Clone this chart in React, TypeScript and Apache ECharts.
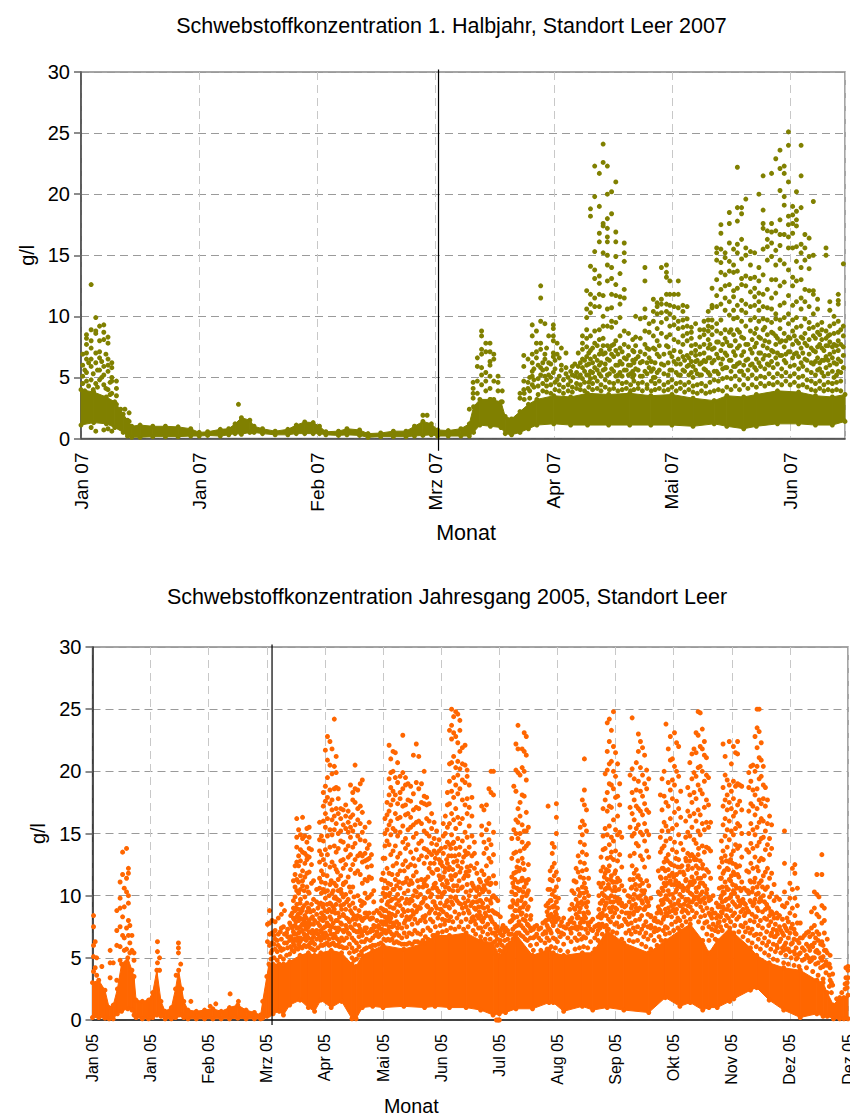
import React, { useEffect, useRef } from "react";
import * as echarts from "echarts";

const FONT = "Liberation Sans, Arial, sans-serif";
const olive = "#808000";
const orange = "#FF6600";
const titleTop = "Schwebstoffkonzentration 1. Halbjahr, Standort Leer 2007";
const titleBottom = "Schwebstoffkonzentration Jahresgang 2005, Standort Leer";
const ticksTop = ["Jan 07", "Jan 07", "Feb 07", "Mrz 07", "Apr 07", "Mai 07", "Jun 07"];
const ticksBottom = ["Jan 05", "Jan 05", "Feb 05", "Mrz 05", "Apr 05", "Mai 05", "Jun 05", "Jul 05", "Aug 05", "Sep 05", "Okt 05", "Nov 05", "Dez 05", "Dez 05"];

// The solid mass of thousands of overlapping readings cannot be read point by point:
// it is kept as an estimated [day, low, high] outline; the separable dots are listed individually.
const bandTop = [[0,1.1,4],[3,1.3,3.8],[6,1.2,3.4],[8,.9,3],[10,.5,2],[11,.2,1.5],[12,.1,1],[14,.1,1.1],[17,.15,1],[20,.15,1],[23,.15,.95],[26,.2,.8],[28,.2,.5],[30,.25,.55],[33,.2,.75],[35,.3,.8],[36.5,.4,1.2],[38,.35,1.7],[40,.5,1.5],[41,.5,1],[43,.4,.8],[46,.3,.6],[49,.3,.75],[51,.4,1.1],[53,.4,1.35],[55,.4,1.3],[56.5,.4,1],[58,.3,.55],[61,.25,.6],[63,.3,.8],[66,.25,.7],[68,.1,.4],[71,.15,.45],[74,.15,.6],[77,.15,.6],[79,.2,1],[81,.25,1.4],[83,.3,1.2],[84.5,.2,.7],[87,.2,.65],[90,.2,.8],[92,.2,1.2],[93,.5,2.6],[94.5,1.1,3.2],[97,1,3.2],[99.5,.9,3],[100.5,.4,1.8],[102,.3,1.6],[104,.5,2.2],[106,.8,2.8],[108,1.1,3.2],[112,1.2,3.5],[116,1.1,3.4],[120,1.1,3.7],[125,1.1,3.6],[130,1.1,3.7],[135,1.1,3.5],[140,1.1,3.6],[145,1,3.3],[150,1.2,3.1],[153,1,3.5],[157,.8,3.4],[160,1,3.6],[165,1.2,3.9],[170,1.2,3.8],[174,1.1,3.5],[178,1.1,3.4],[181,1.4,3.6]];

const dotsTop = [[.4,6.9,6,5.1,4.5],[1.3,8.5,8.2,7.7,7,6.5,5.4,4.7],[2.4,12.6,8.9,8,7.4,6.5,5.9,4.8,.9],[3.5,9.9,8.8,8.6,7,6.2,4.5,.6],[4.4,9.2,8,7.1,6.6,5.6,4.8],[5.4,9.3,8.7,8.1,5.9,5.2,4.4,.7],[6.4,8.3,7.8,6.5,6,5.5,4,.8],[7.3,6.2,5.8,5,4.7,3.7,.6],[8.4,4.7,4.1,3.5,2.8],[9.4,2.4],[10.4,2.4],[11.4,2.1,1.4],[37.3,2.8],[81,1.9],[82,1.9],
[92,2.4],[92.9,4.6,4.1,3.7,3.3],[93.9,6.6,5.9,4.7,3.7],[94.9,8.8,8.4,7.3,6.9,5.8,5.2,4.4],[95.9,7.8,7.1,5.4,4.7,3.9],[96.9,7.8,7.1,6.3,6,5.1,4.1,3.2],[97.8,6.9,6.5,4.7,3.2],[98.8,5.1,4.6,3.9],[99.8,3.9,3],
[104,3.7,3.3],[104.9,6.8,5.9,4.7,4],[105.9,6.5,4.6,4.1],[106.9,9.3,8.4,6.9,6.2,5.5,5.1,4.4],[107.9,8.8,7.8,6.6,7.1],[108.9,12.5,11.5,9.6,7.8,7.3,5.8,5.2],[109.9,9.4,6.9,6.5,5.1],[110.8,8.4,6.2,5.2],[111.9,9.3,9,8.4,8,7,6.7,5.4],[112.8,7.8,6.9,4.8],[113.8,7.4,6,5.6],[114.9,7,5.8,5.3],[116,5.5,4.7],[117,6.1,5.1],[117.8,7,5.9,5],
[118.8,8.4,7.8,7.3,6.5,5.8,4.9],[119.8,12.1,10.6,9.9,8.9,8.2,7.5,6.7,6,5.2],[120.7,18.8,18.2,14.1,11.8,11,10.3,8.4,7.2,6.5,5.5,4.9],[121.7,22.3,19.8,15.3,13.8,13.1,11.5,10.8,8.8,7.8,6.7,5.8,5],[122.8,21.7,19,16.8,16.1,13.3,12.7,11.8,10.8,8.9,8.1,6.9,6,5.3],[123.7,24.1,22.6,17.6,17.4,15.2,11.7,10,9.2,8.2,7.6,6.9,5.6],[124.7,22.3,20,18,17.2,16.5,16.1,15,14.2,12.9,10.6,9.2,7.6,6.5,5.2],[125.7,20.2,18.4,14,13.1,11.8,10.7,9.6,9.1,7.6,6.9,5.7],[126.7,21,16.9,16.1,14.9,12.6,11.7,9.5,8,7.2,6,5.1],[127.7,13.5,11.6,11,9.9,8.4,7.4,6.3,5.4],[128.7,16,15.2,14.5,12.2,11.5,8.8,7.7,6.6,5.6],[129.7,8.6,7.5,6.8,6,5.2],[130.7,8.1,7.2,6.4,5.5,5],[131.4,10,8.3,7.6,6.5,5.7],[132.5,9.8,8.2,7.1,6.2,5.1],[133.6,14,12.9,10.6,9.9,8.8,7.7,6.9,5.5],[134.6,9.4,8.7,7.3,6.6,5.8],[135.6,11.4,10.4,9.6,8.4,7.4,5.7,5],[136.5,11.1,10.8,10.2,9,8,6.9,5.4],[137.5,14,11.4,11,10.3,9.5,8.6,6.1],[138.7,14.2,13.6,13.2,11.8,11,10.4,9.8,8.3,7.6],[139.5,12.9,11.8,10.9,10.2,9.2,8.5,7,5.6],[140.5,11.8,10.8,9.9,9.3,8.1,7.2,6.3],[141.5,12.9,11.8,10.7,9.6,9,7.9,6.5,5.2],[142.6,10.9,10.4,9.7,9.1,8.4,7.7,6.7,5.6],[143.6,10.8,9.8,9.2,8.6,8,6.8,5.9],[144.6,9.1,8.7,8.2,7.6,7,6.3,5.4],[145.6,9.4,7.7,7.2,6.8,6.3,5.6],[146.6,8.9,8.3,7.5,6.9,6.1,5.2],[147.6,9.6,8.9,8.5,7.7,7,6.4,5.7],[148.6,10.4,9.7,9.2,8.8,8.1,7.4,6.6,5.4],[149.5,12.3,10.9,10.7,9.7,9.1,8.5,7.3,6.2],[150.6,15.6,15.2,14.6,13,11.7,10.8,9.4,8.8,7.9,6.9,5.5],[151.6,17.5,16.8,15.5,14.4,13.6,12.2,11,9.7,8.6,7.2,6.1],[152.6,15.2,14.8,13.4,12.5,11.5,10.5,8.9,8.2,7,5.8],[153.6,18.5,17.6,16,14.5,13.7,12.6,11.2,10.1,8.7,7.6,6.4],[154.6,15.5,14.2,13.6,12.1,11.6,10.5,9.8,8.5,7.1,5.9],[155.5,22.2,18.9,17.8,15.9,15.2,13.7,12.3,10.9,9.9,8.9,7.4,6.1],[156.5,18.9,18.4,16.3,14.7,13.1,12.6,11.3,10.5,9.6,8.3,6.8,5.5],[157.5,19.6,15.6,15,13.3,12.5,11,10.3,9.2,7.7,6.4],[158.6,15.3,14.2,13.1,12,10.8,9.7,8.8,7.3,6],[159.6,15.2,13.2,12.3,11.6,10.9,9.9,8.6,7.5,5.8],[160.6,20,14,12.9,11.9,11.2,10.5,9.6,8.3,7,6.2],[161.6,21.5,18.7,17.6,17.2,15.5,13.4,11.8,10.8,9.8,8.9,7.6,6.5],[162.6,17,16.3,15.7,14.6,12.2,10.7,9.7,8.5,7.4,6.1],[163.6,21.7,17.6,16.9,16,14.9,13,11.5,10.6,9.5,8.7,7.2,6.3],[164.6,22.9,17,15.4,14.2,13,11.9,10.2,9.8,8.4,7.7,6.6],[165.6,23.6,22.1,20.3,17.9,16.7,15.8,14.6,12.5,10.9,9.7,9,7.9,6.8],[166.6,22.3,21.7,19.8,19.1,16.7,14.3,12.8,11.1,9.9,8.6,7.5,6.4],[167.6,25.1,24,21,18.2,17.5,16.5,15.6,13.8,11.7,10.2,9.4,8.3,7.1],[168.6,19,18.3,17.6,16.8,15.6,13.2,12.5,10.9,9.7,8.8,7.7,6.6],[169.5,20.2,18.6,17.9,17.4,15.7,14.5,12.9,11.2,9.9,9.1,8,7],[170.6,24,21.5,18.9,15.9,15.2,14,13,11.5,10.6,9.2,8.3,7.4,6.2],[171.5,16.7,15.6,14.6,12.2,11.2,9.8,8.6,7.8,6.5],[172.5,16.4,14.9,13.9,12.1,10.8,9.5,9,8.1,6.9],[173.5,19.4,15,12.1,11.8,10.2,9.1,8.4,7.2,6.1],[174.5,11.4,10.6,9.3,8.7,7.5,6.6,5.6],[175.5,9.5,8.9,8.1,7.4,6.4,5.4],[176.5,15.6,15,8.8,8.2,7.6,6.7,5.8],[177.4,11.2,10.5,9.2,8.5,7.9,6.9,6],[178.4,10,9.4,8.6,7.7,7.1,6.2,5],[179.4,11.8,11.3,11,9.6,8.7,8,7.2,6.5,5.5],[180.6,14.3,9.2,8.4,7.5,6.8,5.8]];

// Second pass over the reference: dots just above the solid mass of the 2007 panel.
const fringeTop = [[.9,5.6,3.9],[1.8,6.2,4.3],[2.9,5.3,4],[3.9,5.6,4.2],[4.9,6.3,5],[5.9,6.9,4.1],[6.9,4.6,3.6],[105,3.2,3.7],[106.3,3.3,3.9,5],[107.3,4.2,4.8,5.7],[108.3,3.6,4.3,4.9,6],[109.4,3.9,4.5,5.6,6.2],[110.3,3.8,4.3,4.8,5.7,7.4],[111.3,3.7,4.4,5,6.1],[112.3,4,4.6,5.7,6.4],[113.3,3.9,4.4,5.1,6.6],[114.3,3.7,4.2,4.8],[115.4,3.9,4.4,5],[116.4,3.8,4.2,5.2,5.9],[117.4,4.1,4.5,5.4],[118.3,4,4.4,5.2,6.2],[119.3,3.9,4.6,5.5,6.4],[120.3,4.2,4.6,5.2,6.1,7],[121.2,4,4.5,5.4,6.2,7.4],[122.3,4.1,4.7,5.6,6.4,7.6],[123.2,3.9,4.4,5.1,6.2,7.2],[124.2,4.2,4.8,5.7,6.1,7],[125.2,4,4.6,5.3,6.4,7.3],[126.2,4.1,4.5,5.5,6.7,7.7],[127.2,3.9,4.7,5.2,6,6.9],[128.2,4,4.5,5.1,6.1,7.1],[129.2,4.1,4.6,5.6,6.5],[130.2,3.9,4.4,5.3,6],[131,4,4.7,5.2,6.2,7.1],[132,4.1,4.5,5.6,6.7],[133,3.9,4.6,5.1,6.3],[134.1,4.1,4.4,5.3,6.2,7.4],[135.1,3.9,4.7,5.5,6.3],[136,4,4.5,5,6.2,7.3],[137,4.1,4.7,5.6,6.7,7.6],[138.1,3.9,4.4,5.3,6,6.9],[139.1,4,4.6,5.2,6.2,7.5],[140,4.2,4.8,5.6,6.7],[141,3.9,4.5,5.4,6.1],[142,4.1,4.6,5.2,6.1,7.1],[143,3.8,4.4,5.5,6.4],[144,4,4.6,5.2,6,6.6],[145,3.8,4.3,5,5.9],[146,3.7,4.4,5.3,6.4],[147,3.9,4.5,5.2,6.2],[148,3.7,4.3,5.6,6.3],[149,3.8,4.6,5.2,6.6,7.7],[150,3.9,4.8,5.5,6.4,7.4],[151,4,4.7,5.3,6.6,7.9],[152,3.9,4.9,5.7,6.5,7.7],[153,4.2,5,5.8,6.8,7.9],[154,4,4.9,5.5,6.4,7.6,8.9],[155,4.3,5.1,5.9,6.8,8],[156,4,4.8,5.5,6.2,7.6,8.7],[157,4.4,5.2,6,7.1,8.2],[158,4.1,4.9,5.6,6.5,7.7],[159,4.4,5.2,6.1,7,8.1],[160,4.2,4.9,5.6,6.5,7.8,9],[161,4.5,5.1,5.9,7,8.2],[162,4.3,5,5.7,6.8,8,9.1],[163,4.5,5.3,6,6.8,7.9],[164,4.4,5,5.8,7.1,8.6],[165,4.6,5.3,6.1,7,8.2],[166,4.4,5.1,5.7,6.8,8],[167,4.7,5.4,6.2,6.9,8],[168,4.4,5.1,5.9,7.1,8.2],[169,4.6,5.3,6,6.9,8.4],[170,4.3,5,5.7,6.7,7.8],[171,4.4,5.1,5.9,7,8.2],[172,4.2,4.8,5.6,6.4,7.6],[173,4,4.7,5.4,6.2,7.4],[174,3.9,4.5,5.2,6.3,7.1,8.2],[175,4.1,4.7,5.7,6.2,7.7,8.5],[176,3.9,4.4,5.1,6.4,7.2],[177,4,4.6,5.3,6.4,7.6,8.4],[178,3.9,4.5,5.5,6.6,7.5],[179,4,4.6,5.2,6.1,7.6],[180,3.9,4.7,5.4,6.3,7.7,8.9]];

const bandBottom = [[0,.2,3],[3,.2,3.2],[6,.15,2.4],[8,.1,1],[10,.1,1.2],[12,.5,2.5],[14,.7,4.5],[17,.9,5],[19,.8,4],[20,.4,3.5],[21,.2,1.6],[24,.1,1.5],[27,.1,1.6],[29,.2,2.2],[31,.4,4],[33,.3,1.5],[35,.1,.7],[38,.1,1],[40,.2,2.5],[41.5,.4,4],[43,.4,2.5],[44,.2,1.5],[46,.1,.8],[50,.1,.7],[54,.1,.8],[58,.1,.9],[62,.1,.7],[66,.1,1],[70,.15,1.2],[74,.1,.8],[78,.1,.6],[81,.1,.4],[82,.15,1.5],[84,.3,3.5],[85,.4,4.5],[87,.5,4.5],[90,.7,4.5],[92,.4,4.5],[95,1.2,4.7],[100,1.6,5.2],[104,1,5.4],[107,.7,5.2],[110,1.6,5.4],[115,1,5.6],[120,1.5,5.4],[125,.1,4.5],[127,.1,4.3],[130,1,5.2],[135,1.1,5.6],[140,1,6],[150,1.1,5.7],[160,1,6.2],[165,1.1,6.8],[172,1,6.8],[180,1,7],[187,.8,6.4],[193,.4,6.2],[196,.5,5.2],[199,.6,5.6],[204,.9,6.9],[212,.9,5.2],[220,1.4,5.7],[222,1.4,5.4],[227,.7,5.2],[236,1.1,5.4],[241,.8,5.4],[248,1,7.2],[256,.8,6.2],[268,.6,5.4],[276,1.8,6.4],[283,1.1,7.2],[288,1.4,7.7],[294,.8,6.4],[297,1,5.4],[301,1,6.4],[307,1.5,7.4],[309,1.7,7],[317,2.4,5.8],[320,2.6,5.2],[326,1.6,4.6],[333,.8,4.2],[341,.2,4],[349,.5,3.2],[352,.3,3],[354,.3,2.2],[357,.1,1.2],[360,.1,1.8],[362,.1,1.8],[364,.1,2]];

const dotsBottom = [[.5,8.4,7.5,6,5.1,3.9],[1.3,6.3,4.2],[2,5,3.6],[4.5,4.3],[8.5,5.6,4.6,3.4],[10,4.6],[11.7,8.8,7.2,6,3.2],[13.3,11.1,9.8,9,7.5,5.9,4.8],[14.5,13.5,11.7,8.3,6.8],[15.3,10.6,9.1,6.6,5.6],[16.4,13.8,11.4,10.3,7.4,5.7],[17.3,12.2,11.8,10,9.4,8,6.8],[18,7.6,6.2,5.4],[19,6.8,5.6],[20,5.4,4.8],
[31.3,6.3,5.5,4.6],[32.3,5,4],[41.4,6.2,5.8,5.4],[42.5,4.5],[40.3,3.6],[47.4,1.5],[56.7,1.1],[59.4,1.3],[66.3,2.1],[70.3,1.5],
[84.3,7.7,6.3],[85.3,8.8,7.8,6.9,6],[86.5,8,7,6.2,5.6],[88,7.9,7.2,6.5,5.7],[89.5,8.2,6.9,6],[91,9.3,8.5,7.4,6.5,5.6],[92.5,8.8,6.9,6.2],[94,7.3,6.7,5.8],[95.5,8.4,7.6,6.7,5.9],[96.8,11.2,9.6,9,8.2,7.1,6.2],[97.6,12.4,11.7,10.7,9.9,8.8,7.6,6.5],[98.4,16.2,14.7,13.9,12.7,11.3,10.4,9.3,8.3,7.4,6.4],[99.3,15.3,13.2,12.4,11.1,10.2,8.9,8,7,6.1],[100.2,14.9,13.7,12.8,11.6,10.5,9.7,8.6,7.5,6.6],[101.2,16.3,14.6,13.5,12,11.2,10.8,9,8.1,7.2],[102.3,14.8,13.4,12.6,11.5,9.9,8.4,7.6,6.6],[103.3,15.4,14.3,13.2,12.9,11.8,10.7,9.4,8.7,7.8,6.8],[104.4,15.5,14.7,13.8,13.1,11.9,10.2,8.9,8,7.1],[105.5,13.7,12.5,11,9.3,8.2,7,6.5],[106.5,11.2,9.7,8.8,7.7,6.7],[108,10.5,9.5,8.5,7.2,6.5],[109.4,15.9,14.5,13.6,12.7,11.4,10.6,9.3,8.2,7.6,6.7],[110.3,14.8,13.3,12,11.1,10.2,8.6,7.1],[111.2,18.3,17.2,16,14.4,12.9,11.7,10.5,9.3,8.4,7.4,6.6],[112.2,21.7,18.8,17.6,16.6,15.5,13.7,12.5,11,9.8,8.2,7],[113.2,22.8,20.9,19.5,17.9,16.2,14.8,13.3,10.4,8.7,7.6],[114.4,22.4,20.5,18.5,17.4,15.3,13.9,12.3,10.9,9.4,8.3,7.2],[115.4,21.8,19.8,17.7,16.9,16.1,14.9,12.7,10.2,8.7,7.5],[116.5,24.2,20.4,18.6,16.4,15.3,14,12.4,11,9.8,8.9,6.9],[117.4,21.2,19.9,18.7,17,15.8,13.5,12.1,10.8,9.3,8],[118.4,18.6,17.8,16.6,15,13.8,11.3,10.4,8.6,7.4],[119.6,17,16.2,15.2,14.4,12.8,11.6,10.5,9.2,7.8],[120.8,16.9,15.7,14.3,12.9,12.2,10.9,9.9,8.5,7.2],[122,17.3,16.4,15.4,13.7,12.5,11.1,10.1,8.9,7.6],[123.2,16.8,15.9,15.1,14,13.1,11.5,9.7,8.1,7],[124.3,18.9,16.3,15.5,14.7,13.3,12.1,10.3,8.8,7.5],[125.4,18.3,17.7,16.5,15.2,13.9,12.5,10.7,9.4,8.1],[126.5,20.5,18.6,17.5,15.7,14.2,12.9,11.8,9,7.7],[127.8,18.5,17,16.1,14.8,13.2,12,10,8.4,7.1],[129,19,17.2,15.8,14.5,13.4,11.7,9.6,8.3,7.3],[130,19.3,16.7,15.1,13.2,12.7,11,9.5,8,6.8],[131.3,15.5,14.4,13.4,12.8,11.3,10.2,8.6,7.4],[132.4,13.8,12.9,12.3,11.2,9.8,8.3,7],[133.3,15.9,14.1,13,11.5,9.9,8.6],[134.4,13.3,12.4,11.4,10.1,8.2,7.3],[135.5,10.4,9.5,8.6,7.6],[137,8.8,8,7.1],[138.2,8.6,7.4,6.8],[139.3,11.3,9.6,8.4,7.3],[140,13,11.8,10.2,8.9,7.7],[140.9,16.2,15,14,13,11.2,9.9,8.3,7.2],[141.9,17.5,16.5,15.3,14.4,12.2,10.6,9.3,8],[142.9,22.1,19.4,18.1,16.8,15.7,14.1,11.8,10,8.6,7.5],[143.7,21,19.9,18.7,17.3,16,14.9,13.3,10.9,9.6,8.2],[144.8,21.6,20,18.4,17.7,15.4,13.6,12.4,10.5,9,7.8],[145.9,21.5,19.5,18.1,16.6,15.2,14,11.3,9.8,8.4],[147,20.7,19.1,17.4,16.2,14.8,13.1,11.7,10.1,8.7,7.4],[148.2,19.6,18.3,17.8,16.3,15.1,13.4,12,10.6,9.2],[149.5,22.9,19.9,18.6,17.2,15.6,14.3,12.5,11,8.9],[150.8,19.5,18.9,17.3,16.5,14.6,13.8,12.8,11.1,9.4,8],[152,19,17.7,16.6,15.3,14.1,12.3,10.4,8.8],[153.3,18.8,17.6,16.3,15.5,13.5,12.5,11.2,9.7,8.3],[154.6,21.3,18.2,16.9,15.7,14.7,13,11.6,10,8.5],[156,22.2,19.1,17.1,15.9,15,13.7,11.9,10.3,8.7],[157.2,21.2,18.6,17,16,14.2,12.9,10.7,9.1],[158.5,19,17.5,15.8,14.4,13.2,11.3,9.4],[159.8,20,18,17.4,15.2,13.8,12.6,11,9.8,8.2],[161,17.9,17.3,16.2,15,13.7,13.1,10.8,9.2],[162.2,17.4,16,14.8,13.5,12.2,10.4,8.6],[163.4,16.6,15.4,14.2,13.3,11.9,10.1,8.9],[164.6,15.9,14.6,13.6,12.6,10.9,9.5],[165.8,15.2,14.1,13.4,12.1,10.6,9],[167,14.5,13.6,12.9,11.6,10.3,8.5],[168,13.8,12.7,11.4,9.9,8.9],[169,15.8,14.8,13.4,11.5,10.2,8.7],[170,16.4,15,13.9,12.2,10.7,9.2,8],[171,18.3,17.3,15.5,14.3,12.6,11,9.6,8.4],[172,23.3,20.6,19.2,17.4,15.8,14.1,12.3,10.5,9],[173,25,23.7,22.6,20.7,18.4,16.6,14.9,13.2,11.3,9.5],[174,24.4,23.1,21.2,19.5,17.9,16.1,14.3,12.7,10.8],[175,24.8,22.8,20.3,18.9,17,15.4,13.8,11.7,9.9],[176,24.6,22.3,20.8,19.7,18.2,16.3,14.6,12.4,10.4],[177,24.1,23.3,21.6,20.2,18.6,15.8,13.9,11.9],[178.2,21.9,20.6,19.3,17.7,16.2,14.4,12.7,10.7,9],[179.5,22.1,20.5,19.1,17.3,15.1,13.6,11.6,9.4],[180.5,20.1,19.6,17.8,16.6,14.7,12.3,10.9],[181.5,18.9,17.1,15.6,13.9,12,10,8.6],[182.8,17.9,16.4,14.8,13.2,11,9.4,8.2],[184,14.3,13.4,12.2,10.6,9,8],[185.2,12.6,11.8,10.4,9.5,8.4],[186.4,11.3,10.1,9.6,8.7],[187.5,17.2,15.6,14.9,12,10.5,9.1,8],[188.6,16.9,14.3,13.4,11.7,10.8,9,8.2],[189.8,17.3,15.3,13.8,12.4,11.2,9.7,8.4],[191,18.6,15.8,14.5,13,11.4,10.3,8.8],[192,20,18.3,14.1,12.7,11,9.4,8.1],[193.2,20,18.1,15.1,13.3,11.6,10,8.7],[194.3,11,9.8,8.6,7.4,6.8],[195.3,9.6,8.5,7.2],[194.6,0],[195.4,0],[196,0],[196.5,8.3,7.2,6.4],[197.8,7.6,6.8],[199,7.4],[200.6,6.9],[202,14.6,13,11.5,10.3,9.1,8,6.9],[203,18.8,15.3,13.4,11.8,10.7,9.4,8.2],[204,22.2,20.1,18.4,16.1,15,13.5,11.9,10.1,8.8],[205,23.7,21.8,19.9,17,15.9,14.6,12.8,11.1,9.6],[206,19.7,17.5,16.4,15,13.6,12.2,10.5,9],[207,21.8,20.3,18.1,15.7,14.3,13,11.4,9.9,8.6],[208,23.1,21.6,20,18,15.2,13.8,12.1,10.7,9.3],[209,22.8,21.3,19.3,16.7,15.2,14,11,10,8.4],[210,15.5,14.2,12.5,11.3,10.4,9.1,7.6],[211.2,9.7,8.4,7.2],[213,7.5,6.7],[215,7.3,6.6],[217,7.8,6.9],[218.5,9.2,8,7],[219.5,17.2,10.5,9.4,8.4,7.4],[220.5,12,11.3,10.5,9.6,8.3,7.2],[221.5,14.2,13.4,12.3,11.2,10.1,9.1,7.9],[222.5,13.9,12.6,11.6,10.4,9.2,8.3],[223.5,17.4,16.3,15,11.9,10.7,9.5,8.5],[224.5,11.3,9.8,8.2,7.1],[226,7.9,7],[228,7.4],[230,8.9,8,7.3],[231,10.4,9.3,8.2,7.4],[232,11.2,10.2,9,7.8],[233,12.2,11.1,9.7,8.5,7.5],[234,13.2,11.9,10.5,9.4,8.3],[235,15.5,14.3,12.7,11.5,10.2,9,7.8],[236,17.7,16,14.9,13.5,12,10.7,9.3,8],[237,21,18.5,17.3,15.7,14.1,12.6,11,9.8,8.4],[238,16.9,15.2,13.3,12.1,10.3,9.1],[239,11.4,10,8.6,7.6],[241,8.1,7.2],[243,7.6,6.9],[244,11,10,8.9,7.7],[245,13.1,12,10.7,9.4,8.2],[246,17,14.8,13.7,12.3,11,9.6,8.4],[247,19.8,17.7,15.4,13.8,11.8,10.5,9.2],[248,23.9,21.6,20.1,18.3,16.8,14.9,13,11.3,9.8],[249,24.2,22.4,20.6,19,17.2,15.6,14.1,12.4,10.6,9],[250,23.3,20.8,18.9,17.1,14.7,13.5,11.6,10,8.8],[251,24.8,22,20,18.6,16.1,14.4,12.9,11.1,9.5],[252,21.5,19.6,17.9,15.3,13.6,12,10.4,9],[253,20.6,18,16.4,14.9,12.8,11.4,9.8],[254,19,17.3,15.1,13.3,11.2,9.7],[255,14.7,12.3,10.8,9.2],[256.3,10.4,9.1,8.1],[258,10,8.6,7.7],[259,19.7,17.1,15.5,13.2,11.3,9.9,8.6],[260,24.3,20.2,18.3,16.6,14.8,12.4,10.7,9.2],[261,19.4,17.7,16.1,15,13.4,11.8,10.1,8.7],[262,20.7,18.5,17.2,15.4,14.2,12.1,10.5,9],[263,23,21.6,19.2,17,15.7,14,11.6,9.8],[264,22.4,20.3,18.4,16.8,15.1,13.2,11.3,10],[265,21.9,19.7,18,16.5,14.9,12.9,11,9.4],[266,21.3,19,17.4,15.8,14.4,12.3,10.4,8.9],[267,20.1,18.6,16.9,15.2,13.6,11.2,9.6],[268,19.4,16.7,14.9,13.1,10.8,9.2],[269,9.8,8.4,7.4],[271,8.2,7.4],[272.6,12,10.3,9.1,7.9],[273.6,18.1,14.7,13.5,11.5,10.1,8.8],[274.4,19.4,16.9,15.2,13.8,12.2,10.6,9.3],[275.4,20,18,15.9,14,12.7,11,9.7,8.3],[276.3,23.8,17.5,15.6,14.4,13,11.4,10,8.6],[277.4,21.8,19.1,17.2,15.2,13.3,12.1,10.4,9],[278.4,22.8,20.9,18.5,16.2,14.6,12.6,11.2,9.5],[279.4,21,19.3,17.8,15.4,13.7,11.8,10.1,8.8],[280.4,23.1,20.4,18.9,16.7,14.3,12.4,10.9,9.3],[281.4,22.3,20,17.6,15.7,13.5,11.7,10.5,8.9],[282.4,22,19.6,17,14.9,12.9,11,9.6],[283.4,18.4,16.3,14.2,12.3,10.7,9.2],[284.6,13.7,11.9,10.4,8.9],[285.8,16,14.7,13,11.2,9.7],[286.8,18.7,16.8,15.1,13.4,12.1,10.4,9.2],[287.8,20.7,18.1,16.4,14.8,12.8,10.9,9.5],[288.8,21.4,19.4,17.5,15.5,13.3,11.5,10.1],[289.8,21.8,19.9,18.3,16.6,14.5,13.1,11.2,9.7],[290.8,23.1,21.5,19.6,17.8,16,14.2,12.4,10.6],[291.8,24.8,22.9,20.3,18.9,16.9,15.2,13.3,11.4,9.9],[292.8,24.7,22,20.4,18.5,16.5,14.9,12.8,11,9.5],[293.8,23.4,21.8,20,18.2,15.8,14,12.2,10.3],[294.8,22.4,21.3,19.2,17.1,15.3,13.5,11.6,9.8],[295.8,21.1,19.7,17.7,15.9,13.9,12.1,10.2],[296.8,19.5,17.3,15.5,13.8,11.9,9.9],[297.8,15.9,13.6,11.4,9.7,8.4],[299,10,8.6,7.7],[300.6,9.4,8.2,7.5],[302,12.3,10.6,9.2,7.9],[303,14.4,13,11.4,10,8.7],[303.8,22.2,18.7,17.2,15.7,13.6,11.8,10.3,9.1],[304.8,21.2,19.7,17.7,16.2,14.8,13.2,11.1,9.6],[305.8,19.3,18.1,16.9,15.3,13.9,12.2,10.5,8.9],[306.8,22.4,18.9,17.5,16,14.5,12.7,11.3,9.8],[307.8,20.6,18.4,17,15.2,13.3,11.6,10.1],[308.8,22,19.2,17.8,16.4,14.9,13.6,11.9,10.4],[309.8,21.5,18.8,16.7,15.4,14.1,12.5,10.8],[310.8,22.4,21.4,19,17.3,15.8,13.8,11.7,9.9],[311.8,18.9,17.6,15.6,14,12.4,10.6,9.2],[312.8,18.8,16.9,15,13.1,11.1,9.6],[314,10.6,9.4,8.4],[315.2,13.7,12,10.4,9],[316.2,19.9,18.7,16.8,15,13.5,11.9,10.2,8.7],[317.2,20.4,19.2,17.4,15.8,14.2,12.6,11.1,9.5],[318.2,20.5,18.5,17.2,15.3,13.8,12.2,10.6,9.2],[319.2,22.8,20,18.1,16.5,14.9,13.1,11.4,9.7,8.3],[320.2,25,23.5,21.9,20.4,18.6,17,15.5,14,12.3,10.7,9],[321.2,25,23.2,21.1,19.4,17.7,15.9,14.3,12.8,11,9.5],[322.2,22.3,20.9,19.6,17.4,16.2,14.6,13,11.2,9.6],[323.2,20.4,18.9,17.8,16,14.7,12.9,11.6,10],[324.2,18.7,17.2,15.2,13.7,11.9,10.5,8.9],[325.2,17.7,15.8,14.1,12.2,10.7,9.1],[326.2,16.4,14.6,13.3,11.4,9.9,8.4],[327.2,15.7,13.8,11.8,10.2,8.7,7],[328.4,10.9,9.6,8.2,6.7],[329.6,9.9,8.6,7.2,6],[331,9.7,8.4,7.5,6.3],[332.4,9.2,8.1,7,5.8],[333.4,15.2,12.6,10.3,9.1,7.6,6],[334.6,9.4,8.2,7.2,5.7],[336,11,9.8,8.6,7,5.5],[337.2,12.2,10.5,9,7.7,6.2],[338.4,12.5,11.8,9.8,8.4,7,5.3],[339.6,10.6,9.2,7.8,6.4,5],[341,7.8,6.6,5.4],[343,6.8,5.6,4.9],[345,7.1,5.9,5],[346.4,8.7,7.4,6,4.8],[347.8,10.3,9,7.6,6.2,5],[349,11.7,10.1,8.5,7.1,5.6],[350,9.9,8.3,6.9,5.4],[351.4,13.3,11.7,9.2,7.8,6.3,4.8],[352.6,9,8,7,5.6,4.4],[354,6.5,5.4,4.4],[355.4,5.2,4.2,3.2],[356.6,3.7,2.8],[363,4.2,3.4],[364,4.3,4,3.4]];

// Second pass over the reference: dots just above the solid mass of the 2005 panel.
const fringeBottom = [[86,4.9,5.4],[87.5,5,6.1,6.8],[89,4.8,5.5,6.4],[90.5,5.1,5.8,7.1],[92,4.9,5.7,7.5],[93.5,5.2,6.2,7],[95,5.3,6.4,7.8],[96.2,5.6,6.5,7.4,8.6],[97.1,5.5,6,6.9,8.1],[98,5.8,6.9,7.9,9],[99,5.7,6.6,7.4,8.5],[100,5.9,6.3,7.1,8.2,9.4],[101,5.8,6.5,7.7,8.8],[102,6,6.9,7.9,9.2,10.4],[103,5.9,6.4,7.3,8.2],[104,6,6.6,7.5,9,10.3],[105,5.8,6.2,7.7,8.7],[106,5.7,6.3,7.2,8.3],[107,5.6,6.1,7,8],[108.6,5.8,6.9,7.8,9],[110,6,6.4,7.2,8.1,9.4],[111,6,6.9,8,9.1],[112,6.1,6.6,7.5,8.8,10.3],[113,6.2,6.8,7.8,9.3,11.6],[114,6,6.5,7.6,8.9,10],[115,6.1,6.9,8.1,9.3,11.2],[116,6.2,6.6,7.8,9.1,10.4],[117,6,6.7,7.4,8.6,9.9],[118,6,6.5,7.1,8,9.7,11.9],[119,5.9,6.3,7.3,8.3,9.6],[120,5.9,6.6,7.7,8.9,10.2],[121,5.8,6.4,7.1,8.4,9.3,11],[122.4,5.8,6.6,7.3,8.2,9.5],[123.8,5.4,6.1,6.9,7.9,9.2,10.7],[125,5,5.8,6.6,7.4,8.6],[126,4.8,5.5,6.4,7.2,8.4,9.9],[127.2,4.9,5.6,6.2,7.1,8.1],[128.4,5.2,5.9,6.7,7.6,8.8],[129.6,5.5,6.3,7,8.1,9.2],[131,5.7,6.3,7.2,8.2,9.4],[132,5.8,6.5,7.4,8.6],[133.8,5.9,6.4,7.1,8.1],[135,6,6.6,7.2,8.2],[136.2,6,6.8,7.5],[137.8,6.1,6.7,7.6],[139,6.2,6.9,7.9,9],[140.4,6.5,7.1,7.9,8.8,10.6],[141.4,6.4,7,7.7,8.8,10.1],[142.4,6.5,7.2,8.3,9.5,11],[143.3,6.4,7.1,7.9,9.1,10.2],[144.3,6.5,6.9,7.5,8.5,9.7,11.7],[145.3,6.2,6.8,7.6,9,10.5],[146.5,6.3,7,7.9,9.3,10.8,12.6],[147.6,6.2,6.8,7.7,9.6,11.1],[149,6.1,6.6,7.4,8.4,9.8],[150.2,6.1,7,7.8,8.7,10.2,12],[151.4,6.1,6.7,7.5,8.3,9.7,11.4],[152.6,6.2,7,8.1,9.4,10.9],[154,6.1,6.9,7.7,8.8,9.6,11],[155.3,6.3,7.2,8.1,9.2,10.4,12.4],[156.6,6.3,7,7.8,8.9,9.9,11.2],[158,6.2,6.9,8,9,10.1],[159.2,6.4,7.2,8.3,9.5,10.7],[160.4,6.7,7.9,8.4,9.8,11.3],[161.6,6.5,7.4,9.1,10.3,11.5],[162.8,7.2,8.1,8.8,9.9,12.6],[164,6.8,7.9,9.5,10.6,11.8],[165.2,7.5,8.6,9.2,11,13],[166.4,7,8.2,9.9,10.4,12.1],[167.6,7.6,8.9,9.4,11.3,12.6],[168.6,7.1,8.1,10.1,10.9,12.4],[169.6,7.7,9.2,10.3,11.9],[170.6,7.2,8.5,9.5,11.2,12.9],[171.6,8,9.1,10.6,12.1,13.2],[172.6,7.4,8.3,9.9,11.6,13.8],[173.6,7.9,9.3,10.4,12.1,14.2],[174.6,7.3,8.7,9.8,11.6,13.2],[175.6,8.2,9.6,10.8,12.8],[176.6,7.5,8.5,9.4,11.2,13.3],[177.6,7.9,9.3,10.6,12.2],[178.8,7.3,8.6,9.8,11.4,13.1],[180,8.1,9.1,10.3,11.9,13.3],[181,7.5,8.8,9.6,11.6,13.4],[182.2,7.9,9.2,10.4,12.4],[183.4,7.2,8.3,9.5,10.8],[184.6,6.9,7.7,8.9,9.9],[186,7.4,8.2,9.1,10.7],[187,6.7,7.4,8.4,9.6,11.1],[188,7.1,7.9,9.4,10.3],[189.2,6.5,7.5,8.6,10.5],[190.4,6.9,7.7,9.1,11],[191.6,6.5,7.3,8.3,9.6,10.9],[192.6,7,7.9,8.8,9.9],[193.8,6.3,7,7.7,8.6],[195,6,6.5,7.5],[196.2,5.6,6.2,7],[197.4,5.5,6,6.8,7.4],[198.6,5.8,6.4,7.1],[200,6,6.5,7.2],[201.2,6.2,6.9,7.9,9.1],[202.5,6.5,7.3,8.4,9.6,11],[203.5,6.7,7.5,8.8,10.1,11.3],[204.5,7,7.6,8.3,9.3,10.6,12.3],[205.5,7,7.9,8.8,10.4,12],[206.5,6.8,7.6,8.5,9.6,11.2],[207.5,6.7,7.4,8.1,9.1,10.3,12.6],[208.5,6.5,7.2,8,9.4,11.2],[209.5,6.4,7,7.7,8.9,10.2],[211,6,6.6,7.4,8.1],[212.4,5.6,6.6,7.3],[214,6.1,6.9,7.6],[216,5.6,6.4,7.4],[218,6.2,7.1,7.9],[219,5.7,6.6,7.6,8.7],[220,6.4,7.3,8.1,9],[221,5.9,7,8.5,9.6],[222,6.6,7.6,8.2,9.1],[223,5.8,6.5,7.9,8.7,9.9],[224,6.3,7.2,8.1,9],[225.4,5.6,6.7,7.6],[227,6.1,6.9,7.5,8.2],[229,5.5,6.6,7.7],[230.6,6.3,7,7.9],[232.5,5.7,6.6,7.4,8.9],[233.6,6.4,7.3,8.2,9.2],[234.6,5.8,6.9,7.5,8.7,10],[235.6,6.5,7.4,8.1,9.5],[236.6,5.9,6.7,7.9,8.6,10.2,11.4],[237.6,6.6,7.3,8.2,9.4,10.6],[238.6,5.8,7,7.8,8.7,9.5],[240,6.3,7.3,7.9],[242,5.7,6.6,7.5],[243.6,6.4,7.2,8.3],[244.6,6.2,7.4,8.5,9.4],[245.6,6.9,7.7,8.6,9.6,10.2],[246.6,6.6,7.5,8.9,10,11.5],[247.6,7.6,8.4,9.4,10.6,12.1],[248.6,7.3,8.1,9.8,10.9,12],[249.6,7.9,8.7,9.5,11.3,13.1],[250.6,7.1,8.3,9.1,10.4,11.1],[251.6,7.7,8.6,9.9,10.7,11.8],[252.6,7,7.8,8.9,9.6,11.1],[253.6,7.5,8.3,9.4,10.5],[255,6.5,7.6,8.7,9.4],[257,7,7.9,8.6,9.2],[258.6,6.4,7.2,8.3,9.5],[259.6,6.9,7.8,9,10.6],[260.6,6.3,7.4,8.5,9.7,11.3],[261.6,7.1,8,9.3,10.9],[262.6,6.4,7.5,8.8,9.9,11.5],[263.6,7,8.1,9,10.8],[264.6,6.1,7.3,8.4,9.6,10.4],[265.6,6.7,7.6,8.9,10.2],[266.6,5.9,7,7.9,9.1,9.8],[267.6,6.5,7.5,8.5,9.5],[269,5.7,6.8,7.6,8.3],[270.6,6.4,7.1,8],[272,6,7.2,7.9,8.6],[273,6.7,7.3,8.9,10.2],[274,6.4,7.8,8.6,9.6,11.4],[275,7.2,8.1,9.4,10.4,12.2],[276,6.9,7.5,8.9,10.8,12],[277,7.4,8.4,9.7,11,12.8],[278,7,8.7,10.1,11.6],[279,7.7,8.3,9.2,10.9,12.5],[280,7.2,8.9,9.8,11.5],[281,7.9,8.6,10.3,11.2,13],[282,7.4,8.2,9.4,10.8,12.3],[283,8,9.2,10.1,11.9],[284,7.6,8.7,9.9,10.8,12.4],[285,8.3,9.3,10.6,11.7],[286,7.9,8.8,9.6,11.3,12.8],[287,8.6,9.7,10.7,12.4],[288,8.1,9.1,10.2,11.1,13.2],[289,8.8,9.5,10.9,12.2],[290,8.3,9.9,11.1,12.9],[291,8.6,9.3,10.3,11.8,12.9],[292,7.9,9.7,10.7,12.2,13.8],[293,8.3,9.1,10.1,11.4],[294,7.4,8.8,9.7,11,12.5],[295,7.8,8.4,9.4,10.8],[296,6.9,7.9,9,10.5],[297,6.4,7.5,8.6,9.6],[298.4,6.8,7.3,8.2,8.9],[300,6.5,7.2,8.6],[301.4,7.1,7.8,8.4,9.1],[302.6,7.5,8.3,9.1,9.8,11.4],[303.4,7.2,8.6,9.5,10.7,12.7],[304.4,8,8.9,10.2,12],[305.4,7.6,8.4,9.7,10.7,12.8],[306.4,8.2,9.2,10.5,12.1],[307.4,7.9,8.8,9.9,11.2,12.9],[308.4,8.4,9.5,10.9,12.6],[309.4,7.6,8.6,9.3,10.2,11.7],[310.4,8.1,9.1,10.6,12.3],[311.4,7.1,8.3,9.6,11.5],[312.4,7.6,8.7,9.4,10.4],[313.4,6.7,7.5,8.9,9.7],[314.6,7.1,7.8,8.6,9.3],[315.8,6.4,7.4,8.8,10.4],[316.8,7,8,9.6,11.2],[317.8,6.2,7.3,8.5,10.3],[318.8,6.8,7.9,9.4,11.1],[319.8,5.9,6.9,8.3,10.1],[320.8,6.5,7.6,8.8,10.2,12],[321.8,5.7,6.9,8,9.8],[322.8,6.2,7.4,8.7,10.7],[323.8,5.4,6.6,8.2,9.5],[324.8,6,7.1,8.1,9.3],[325.8,5.2,6.3,7.6,9],[326.8,5.7,6.8,7.9,8.7],[328,4.9,6.1,7.3,8.5],[329,5.5,6.7,7.7],[330,4.8,5.8,6.9,8.2],[331.6,5.4,6.5,7.2],[333,4.6,5.6,6.8],[334,5.2,6.2,7.4],[335.2,4.5,5.7,6.6,7.9],[336.6,5,6.1,7.4],[338,4.4,5.5,6.5,7.3],[339,4.9,5.8,6.9],[340.4,4.3,5.3,6.2],[342,4.8,5.8,6.6],[344,4.2,5.2,6.1,7],[345.6,4.7,5.6,6.7],[347,3.9,5,5.9,6.9],[348.4,4.5,5.5,6.6],[349.6,3.6,4.6,5.4,6.4],[350.8,4.2,5,6.1],[352,3.3,4.3,5.1,6],[353.4,3.8,4.7,5.6],[355,2.7,3.6,4.5],[356,2.2,3],[358.5,1.7],[361,2.2],[362.6,2.5,2.9],[363.6,2.6,3]];

const expand = (rows: number[][]) => rows.flatMap((r) => r.slice(1).map((v) => [r[0], v]));
const edgeDots = (rows: number[][]) => rows.flatMap((r) => [[r[0], r[1]], [r[0], r[2]]]);

const axisPair = (grid: number, maxX: number, ticks: string[], tickSize: number, nameSize: number, nameGap: number, namePad: number[], yGap: number, axisColor: string) => ({
  x: {
    type: "value", gridIndex: grid, min: 0, max: maxX, interval: 28, name: "Monat", nameLocation: "middle", nameGap,
    nameTextStyle: { fontFamily: FONT, fontSize: nameSize, color: "#000", padding: namePad },
    axisLine: { show: true, onZero: false, lineStyle: { color: axisColor, width: 1.5 } },
    axisTick: { show: false },
    axisLabel: { rotate: 90, margin: 14, fontFamily: FONT, fontSize: tickSize, color: "#000", showMaxLabel: maxX === 364, hideOverlap: false, formatter: (v: number) => ticks[v / 28] ?? "" },
    splitLine: { show: true, lineStyle: { color: "#c8c8c8", type: [8, 5], width: 1 } },
  },
  y: {
    type: "value", gridIndex: grid, min: 0, max: 30, interval: 5, name: "g/l", nameLocation: "middle", nameGap: yGap, nameRotate: 90,
    nameTextStyle: { fontFamily: FONT, fontSize: 20, color: "#000" },
    axisLine: { show: true, lineStyle: { color: axisColor, width: 1.5 } },
    axisTick: { show: true, length: 7, lineStyle: { color: "#666", width: 1.5 } },
    axisLabel: { margin: 11, fontFamily: FONT, fontSize: 20, color: "#000" },
    splitLine: { show: true, lineStyle: { color: "#9a9a9a", type: [8, 5], width: 1 } },
  },
});

const layers = (i: number, color: string, band: number[][], dots: number[][], fringe: number[][], markerDay: number, markerLow: number) => [
  {
    type: "custom", xAxisIndex: i, yAxisIndex: i, silent: true, data: band, z: 2,
    renderItem: (p: any, api: any) => {
      const a = band[p.dataIndex];
      const b = band[p.dataIndex + 1];
      if (!b) return null;
      const points = [api.coord([a[0], a[1]]), api.coord([b[0], b[1]]), api.coord([b[0], b[2]]), api.coord([a[0], a[2]])];
      return { type: "polygon", shape: { points }, style: { fill: color, stroke: color, lineWidth: 1 } };
    },
  },
  { type: "scatter", xAxisIndex: i, yAxisIndex: i, symbolSize: 5, silent: true, z: 3, itemStyle: { color, opacity: 1 }, data: edgeDots(band) },
  { type: "scatter", xAxisIndex: i, yAxisIndex: i, symbolSize: 5, silent: true, z: 3, itemStyle: { color, opacity: 1 }, data: expand(fringe) },
  { type: "scatter", xAxisIndex: i, yAxisIndex: i, symbolSize: 5, silent: true, z: 3, itemStyle: { color, opacity: 1 }, data: expand(dots) },
  {
    type: "line", xAxisIndex: i, yAxisIndex: i, silent: true, clip: false, symbol: "none", z: 5,
    lineStyle: { color: "#000", width: 1.2 }, data: [[markerDay, markerLow], [markerDay, 30.2]],
  },
];

export default function App() {
  const ref = useRef<HTMLDivElement>(null);
  useEffect(() => {
    const chart = echarts.init(ref.current!, null, { renderer: "svg" });
    const a = axisPair(0, 181, ticksTop, 19, 21.5, 83, [0, 0, 0, 6], 44, "#444");
    const b = axisPair(1, 364, ticksBottom, 16, 19.7, 76, [0, 118, 0, 0], 42, "#222");
    chart.setOption({
      animation: false,
      backgroundColor: "#fff",
      title: [
        { text: titleTop, left: 446.5, top: 10, textAlign: "center", textStyle: { fontFamily: FONT, fontSize: 21.5, fontWeight: "normal", color: "#000" } },
        { text: titleBottom, left: 442, top: 581, textAlign: "center", textStyle: { fontFamily: FONT, fontSize: 21.5, fontWeight: "normal", color: "#000" } },
      ],
      grid: [
        { left: 81, top: 72, width: 764, height: 366.5, outerBoundsMode: "none", show: true, borderColor: "#888", borderWidth: 1.5, backgroundColor: "#fff" },
        { left: 92.5, top: 647, width: 755.5, height: 373, outerBoundsMode: "none", show: true, borderColor: "#888", borderWidth: 1.5, backgroundColor: "#fff" },
      ],
      xAxis: [a.x, b.x],
      yAxis: [a.y, b.y],
      series: [...layers(0, olive, bandTop, dotsTop, fringeTop, 84.7, -1), ...layers(1, orange, bandBottom, dotsBottom, fringeBottom, 86.5, -0.4)],
    });
    return () => chart.dispose();
  }, []);
  return <div ref={ref} style={{ position: "absolute", left: 0, top: 0, width: 850, height: 1115 }} />;
}
